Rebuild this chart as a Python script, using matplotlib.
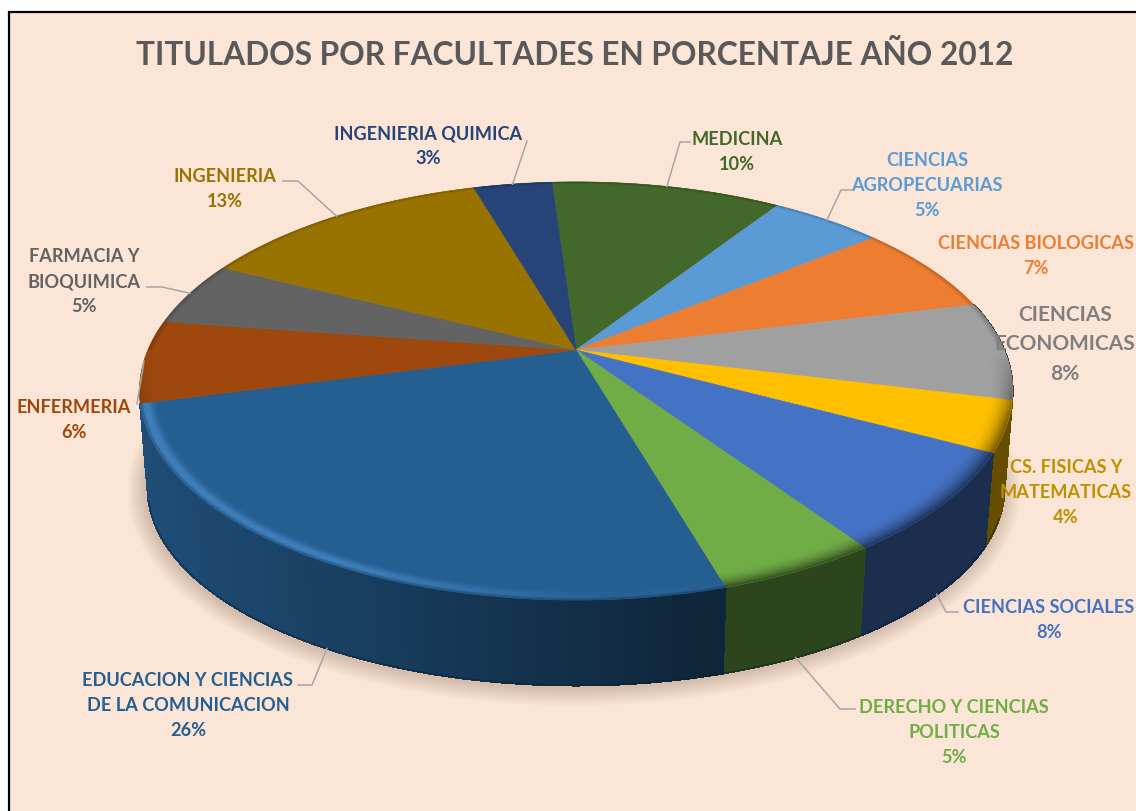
import numpy as np
from matplotlib import pyplot as plt
from matplotlib.patches import Polygon, Rectangle
from matplotlib.colors import to_rgb

plt.rcParams['font.family'] = ['Lato', 'DejaVu Sans']

# clockwise, starting with medicina
faculties = ["MEDICINA", "CIENCIAS\nAGROPECUARIAS", "CIENCIAS BIOLOGICAS", "CIENCIAS\nECONOMICAS",
             "CS. FISICAS Y\nMATEMATICAS", "CIENCIAS SOCIALES", "DERECHO Y CIENCIAS\nPOLITICAS",
             "EDUCACION Y CIENCIAS\nDE LA COMUNICACION", "ENFERMERIA", "FARMACIA Y\nBIOQUIMICA",
             "INGENIERIA", "INGENIERIA QUIMICA"]
percent = [10.3, 5.0, 7.0, 7.6, 3.9, 7.7, 5.0, 25.51, 6.38, 5.0, 13.1, 3.49]

slice_colours = ["#43682B", "#5B9BD5", "#ED7D31", "#A0A0A0", "#FFC000", "#4472C4",
                 "#70AD47", "#255E91", "#9E480E", "#636363", "#997300", "#264478"]
text_colours = ["#43682B", "#5B9BD5", "#ED7D31", "#7F7F7F", "#BF9000", "#4472C4",
                "#70AD47", "#255E91", "#9E480E", "#636363", "#997300", "#264478"]

# label centres in pixels, top of the first line
label_pos = [(737, 131), (927, 152), (1036, 235), (1065, 305), (1066, 459), (1049, 599),
             (954, 699), (188, 672), (74, 399), (84, 248), (225, 168), (428, 125)]
label_size = [13.1, 13.1, 13.1, 15, 13.1, 13.1, 13.1, 13.1, 13.1, 13.1, 13.1, 13.1]

# elbows of the leader lines, None where a slice has none
elbows = [[(680, 142), (690, 142)], [(841, 190), (851, 190)], None, None, None,
          [(946, 612), (958, 612)], [(840, 709), (855, 709)], [(312, 685), (298, 685)],
          [(137, 404)], [(162, 287), (147, 287)], [(298, 181), (283, 181)], [(527, 141)]]
leader_on_bottom = [False, False, False, False, False, True, True, True, False, False, False, False]

BG = "#FBE5D6"
CX, CY = 576, 350
A, B, K = 428, 201, 0.196
BOT_A, BOT_B, BOT_CY = 420, 190, 449
START = 93.9


def top_pt(t, r=1.0):
    x, y = r * np.cos(t), r * np.sin(t)
    w = 1 + K * y
    return CX + A * x / w, CY - B * y / w


def bot_pt(t):
    x, y = np.cos(t), np.sin(t)
    w = 1 + K * y
    return CX + BOT_A * x / w, BOT_CY - BOT_B * y / w


def wall_shade(x):
    # side goes dark towards the right
    return np.clip(0.82 - 0.42 * (x - 140) / 560, 0.40, 0.85)


def mix(a, b, w):
    return tuple((1 - w) * np.array(a) + w * np.array(b))


fig = plt.figure(figsize=(11.36, 8.11), dpi=100, facecolor="white")
ax = fig.add_axes([0, 0, 1, 1])
ax.set_xlim(0, 1136)
ax.set_ylim(811, 0)
ax.axis("off")

ax.add_patch(Rectangle((8.5, 11.5), 1200, 900, fc=BG, ec="black", lw=1.6, zorder=0))

edges = START - np.cumsum([0] + percent) * 360 / sum(percent)
edges = np.radians(edges)

# soft shadow under the pie
tt = np.linspace(0, 2 * np.pi, 200)
bx, by = bot_pt(tt)
mx, my = bx.mean(), by.mean()
for grow in np.linspace(18, 1, 14):
    sx = mx + (bx - mx) * (1 + grow / 420) - 2
    sy = my + (by - my) * (1 + grow / 210) + 2
    ax.add_patch(Polygon(np.c_[sx, sy], fc="#8a6a55", ec="none", alpha=0.025, zorder=1))

# side walls, slices at the back and on the far left are hidden
for i in range(len(percent)):
    mid = (edges[i] + edges[i + 1]) / 2
    if np.sin(mid) > 0.05 or (np.cos(mid) < 0 and np.sin(mid) > -0.1):
        continue
    base = to_rgb(slice_colours[i])
    n = max(int(percent[i] * 8), 4)
    steps = np.linspace(edges[i], edges[i + 1], n + 1)
    for a0, a1 in zip(steps[:-1], steps[1:]):
        x0, y0 = top_pt(a0)
        x1, y1 = top_pt(a1)
        x2, y2 = bot_pt(a1)
        x3, y3 = bot_pt(a0)
        f = wall_shade((x0 + x1) / 2)
        c = tuple(np.array(base) * f)
        ax.add_patch(Polygon([(x0, y0), (x1, y1), (x2, y2), (x3, y3)], fc=c, ec=c, lw=1.0,
                             antialiased=False, zorder=2))

# dark line along the foot of the wall
front = np.radians(np.linspace(-165, -20, 120))
fx, fy = bot_pt(front)
ax.plot(fx, fy, color="#0b1c2c", lw=1.0, alpha=0.5, zorder=2.5)

# top faces
for i in range(len(percent)):
    base = to_rgb(slice_colours[i])
    arc = np.linspace(edges[i], edges[i + 1], max(int(percent[i] * 6), 6))
    ax_, ay_ = top_pt(arc)
    pts = [(CX, CY)] + list(zip(ax_, ay_))
    ax.add_patch(Polygon(pts, fc=base, ec=base, lw=0.5, zorder=3))

# bevel round the rim, thin rings cut per slice
rings = np.linspace(0.945, 1.0, 12)
glow_col = to_rgb("#4C8CCB")
for i in range(len(percent)):
    base = to_rgb(slice_colours[i])
    n = max(int(percent[i] * 4), 5)
    steps = np.linspace(edges[i], edges[i + 1], n + 1)
    for a0, a1 in zip(steps[:-1], steps[1:]):
        mid = (a0 + a1) / 2
        front_w = np.clip(-np.sin(mid) * 3, 0, 1)
        xm = top_pt(mid)[0]
        wall = tuple(np.array(base) * wall_shade(xm))
        for r0, r1 in zip(rings[:-1], rings[1:]):
            u = (r0 - rings[0]) / (rings[-1] - rings[0])
            if slice_colours[i] == "#255E91":
                # education: light streak on the edge, fades on the right
                glow = np.exp(-((u - 0.72) / 0.25) ** 2) * np.clip((640 - xm) / 300, 0.1, 1)
                c = mix(base, glow_col, 0.75 * glow)
                if u > 0.85:
                    c = mix(c, wall, (u - 0.85) / 0.15 * 0.8)
            else:
                c = mix(base, wall, front_w * u ** 2)
                if front_w == 0:
                    c = mix(base, np.array(base) * 0.6, 0.6 * max(u - 0.7, 0) / 0.3)
            xa, ya = top_pt(np.array([a0, a1, a1, a0]), np.array([r0, r0, r1, r1]))
            ax.add_patch(Polygon(np.c_[xa, ya], fc=c, ec=c, lw=0.3, zorder=4))

# leader lines
for i in range(len(percent)):
    if elbows[i] is None:
        continue
    mid = (edges[i] + edges[i + 1]) / 2
    start = bot_pt(mid) if leader_on_bottom[i] else top_pt(mid)
    path = [start] + elbows[i]
    ax.plot([p[0] for p in path], [p[1] for p in path], color="#A6A6A6", lw=1.1, zorder=5)

# labels
for i in range(len(percent)):
    lx, ly = label_pos[i]
    txt = "{}\n{:.0f}%".format(faculties[i], percent[i])
    ax.text(lx, ly, txt, ha="center", va="top", color=text_colours[i], fontsize=label_size[i],
            fontweight="bold", linespacing=1.58, zorder=6)

ax.text(574.5, 55, "TITULADOS POR FACULTADES EN PORCENTAJE AÑO 2012", ha="center", va="center",
        color="#595959", fontsize=22.8, fontweight="bold", zorder=6)

plt.savefig("out.png", dpi=100)
